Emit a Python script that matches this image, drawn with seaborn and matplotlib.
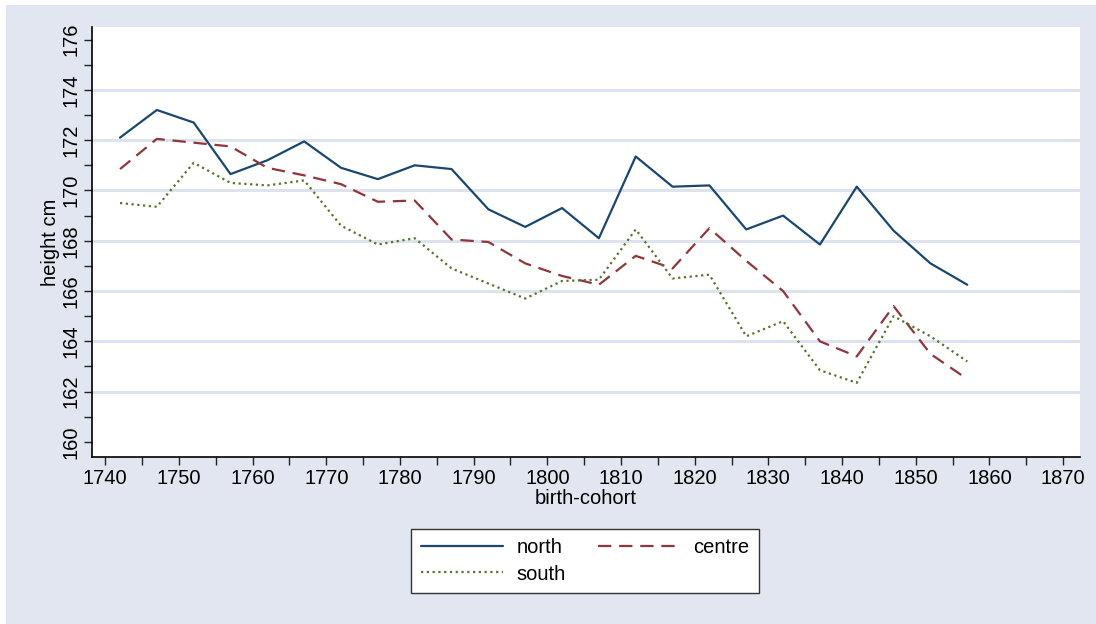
"""
Heights by birth-cohort for three regions, drawn in a Stata-like style.
"""
# Import Standard Libraries
import numpy as np
import pandas as pd
import matplotlib
matplotlib.use('Agg')
import matplotlib.pyplot as plt
from matplotlib.patches import Rectangle
from matplotlib.ticker import MultipleLocator
import seaborn as sns

# Data
cohorts = [1742, 1747, 1752, 1757, 1762, 1767, 1772, 1777, 1782, 1787, 1792, 1797,
           1802, 1807, 1812, 1817, 1822, 1827, 1832, 1837, 1842, 1847, 1852, 1857]
north = [172.1, 173.2, 172.7, 170.65, 171.2, 171.95, 170.9, 170.45, 171.0, 170.85, 169.25, 168.55,
         169.3, 168.1, 171.35, 170.15, 170.2, 168.45, 169.0, 167.85, 170.15, 168.4, 167.1, 166.25]
centre = [170.85, 172.05, 171.9, 171.75, 170.9, 170.6, 170.25, 169.55, 169.6, 168.05, 167.95, 167.1,
          166.6, 166.25, 167.4, 166.9, 168.5, 167.2, 166.0, 164.0, 163.4, 165.4, 163.5, 162.5]
south = [169.5, 169.35, 171.1, 170.3, 170.2, 170.4, 168.6, 167.85, 168.1, 166.9, 166.3, 165.7,
         166.4, 166.45, 168.45, 166.5, 166.65, 164.2, 164.8, 162.85, 162.35, 165.0, 164.2, 163.2]
regions = ['north', 'centre', 'south']
x_ticks = list(range(1740, 1871, 10))
y_ticks = list(range(160, 177, 2))

# Build a long table for seaborn
heights = pd.DataFrame({'birth-cohort': cohorts, 'north': north, 'centre': centre, 'south': south})
heights_long = heights.melt(id_vars='birth-cohort', value_vars=regions,
                            var_name='region', value_name='height cm')

# Styles
bg_color = '#E1E6F0'
grid_color = '#DDE2EC'
palette = {'north': '#1A476F', 'centre': '#90353B', 'south': '#55752F'}
dashes = {'north': '', 'centre': (6, 3.5), 'south': (1, 1.6)}
font_size = 14.5

sns.set_theme(style='white')
plt.rcParams['font.family'] = ['Liberation Sans', 'DejaVu Sans']
plt.rcParams['text.color'] = 'black'
plt.rcParams['axes.labelcolor'] = 'black'
plt.rcParams['xtick.color'] = 'black'
plt.rcParams['ytick.color'] = 'black'

fig = plt.figure(figsize=(10.96, 6.24), dpi=100, facecolor='white')
fig.add_artist(Rectangle((6 / 1096, 0), 1, 1 - 5 / 624, transform=fig.transFigure,
                         facecolor=bg_color, edgecolor='none', zorder=-10))

ax = fig.add_axes([92 / 1096, 1 - 457 / 624, (1080 - 92) / 1096, (457 - 27) / 624])
ax.set_facecolor('white')

# Horizontal grid lines (not at the axis extremes)
for y in y_ticks[1:-1]:
    ax.axhline(y, color=grid_color, linewidth=2.2, zorder=0)

sns.lineplot(data=heights_long, x='birth-cohort', y='height cm', hue='region',
             style='region', hue_order=regions, style_order=regions,
             palette=palette, dashes=dashes, linewidth=1.6, ax=ax, legend=False, zorder=3)

# Axis limits and ticks
ax.set_xlim(1738.2, 1872.3)
ax.set_ylim(159.4, 176.5)
ax.set_xticks(x_ticks)
ax.set_yticks(y_ticks)
ax.xaxis.set_minor_locator(MultipleLocator(5))
ax.yaxis.set_minor_locator(MultipleLocator(1))
ax.tick_params(axis='both', which='both', direction='out', length=6, width=1, color='#222222',
               labelsize=font_size, labelcolor='black', bottom=True, left=True)
ax.tick_params(axis='y', which='major', labelrotation=90, pad=2)
for label in ax.get_yticklabels():
    label.set_va('center')
ax.tick_params(axis='x', which='major', pad=3)

# Spines
for side in ['top', 'right']:
    ax.spines[side].set_visible(False)
for side in ['left', 'bottom']:
    ax.spines[side].set_color('black')
    ax.spines[side].set_linewidth(1.2)

# Labels
ax.set_xlabel('birth-cohort', fontsize=font_size, labelpad=0, color='black')
ax.set_ylabel('height cm', fontsize=font_size, labelpad=1, color='black')

# Legend: north and centre on the first row, south below north
legend_order = ['north', 'south', 'centre']
handles = [plt.Line2D([], [], color=palette[r], linewidth=1.6,
                      linestyle='-' if r == 'north' else (0, dashes[r])) for r in legend_order]
legend = fig.legend(handles, legend_order, loc='center', bbox_to_anchor=(585 / 1096, 1 - 561 / 624),
                    ncol=2, fontsize=font_size, frameon=True, fancybox=False, handlelength=4.1,
                    columnspacing=1.6, handletextpad=0.65, borderpad=0.45, labelspacing=0.35)
legend.get_frame().set_edgecolor('#333333')
legend.get_frame().set_linewidth(1)
legend.get_frame().set_facecolor('white')
legend.get_frame().set_alpha(1)

fig.savefig('out.png', dpi=100, facecolor=fig.get_facecolor())
